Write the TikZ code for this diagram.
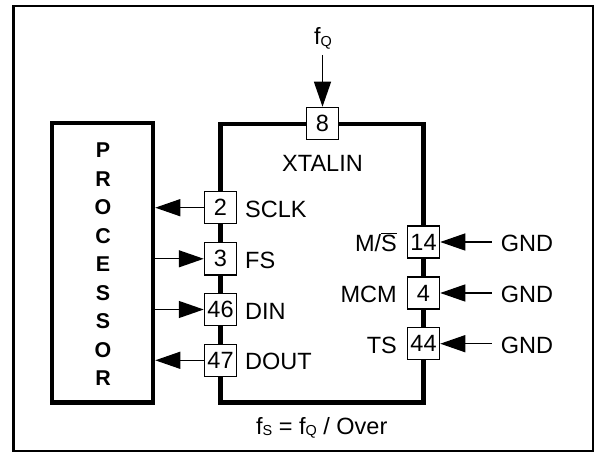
\documentclass[tikz,border=0pt]{standalone}
\usepackage{fontspec}
\setmainfont{Liberation Sans}
\usetikzlibrary{arrows.meta}
\newcommand\subsc[1]{\raisebox{-1.5bp}{\fontsize{14.5}{14.5}\selectfont #1}}
\begin{document}
\begin{tikzpicture}[x=1bp,y=-1bp,
  bigbox/.style={draw, line width=4.5bp, inner sep=0pt},
  pin/.style={draw, fill=white, line width=1.3bp, minimum width=32.2bp, minimum height=32.2bp, inner sep=0pt, font=\fontsize{23.6}{23.6}\selectfont},
  lbl/.style={font=\fontsize{23.6}{23.6}\selectfont, inner sep=0pt},
  sig/.style={line width=1.3bp, -{Triangle[length=25bp,width=17bp]}},
]
\useasboundingbox (0,0) rectangle (595,453);
\draw[line width=2.5bp] (13.5,6) rectangle (593,451);
% processor and chip
\node[bigbox, minimum width=101bp, minimum height=279.5bp] (proc) at (102.5,262.75) {};
\node[bigbox, minimum width=203bp, minimum height=278.5bp] (chip) at (322,263.25) {};
\node[font=\bfseries\fontsize{21.5}{28.6}\selectfont, align=center, inner sep=0pt] (proclbl) at (103,264.5) {P\\R\\O\\C\\E\\S\\S\\O\\R};
% pins
\node[pin] (p8) at (322.5,123.5) {8};
\node[pin] (p2) at (220.5,207.7) {2};
\node[pin] (p3) at (220.5,258.8) {3};
\node[pin] (p46) at (220.5,309.5) {46};
\node[pin] (p47) at (220.5,360.3) {47};
\node[pin] (p14) at (423.5,242) {14};
\node[pin] (p4) at (423.5,293) {4};
\node[pin] (p44) at (423.5,343.7) {44};
% labels
\node[lbl, anchor=base] (xtal) at (322.5,171.7) {XTALIN};
\node[lbl, anchor=base west] (lsclk) at (245,217.2) {SCLK};
\node[lbl, anchor=base west] (lfs) at (245,268.3) {FS};
\node[lbl, anchor=base west] (ldin) at (245,319) {DIN};
\node[lbl, anchor=base west] (ldout) at (245,369.8) {DOUT};
\node[lbl, anchor=base east] (lms) at (397,251.5) {M/$\overline{\hbox{S}}$};
\node[lbl, anchor=base east] (lmcm) at (397,302.5) {MCM};
\node[lbl, anchor=base east] (lts) at (397,353.2) {TS};
\node[lbl, anchor=base west] (g14) at (500.7,251.5) {GND};
\node[lbl, anchor=base west] (g4) at (500.7,302.5) {GND};
\node[lbl, anchor=base west] (g44) at (500.7,353.2) {GND};
\node[lbl, anchor=base] (fq) at (323,45) {f\subsc{Q}};
\node[lbl, anchor=base] (form) at (321.7,434.3) {f\subsc{S} = f\subsc{Q} / Over};
% connectors
\coordinate (fqs) at (322.5,55);
\draw[sig] (fqs) -- (p8.north);
\draw[sig] (p2.west) -- (proc.east |- p2.west);
\draw[sig] (proc.east |- p3.west) -- (p3.west);
\draw[sig] (proc.east |- p46.west) -- (p46.west);
\draw[sig] (p47.west) -- (proc.east |- p47.west);
\coordinate (s14) at (491.7,242);
\coordinate (s4) at (491.7,293);
\coordinate (s44) at (491.7,343.7);
\draw[sig] (s14) -- (p14.east);
\draw[sig] (s4) -- (p4.east);
\draw[sig] (s44) -- (p44.east);
\end{tikzpicture}
\end{document}
